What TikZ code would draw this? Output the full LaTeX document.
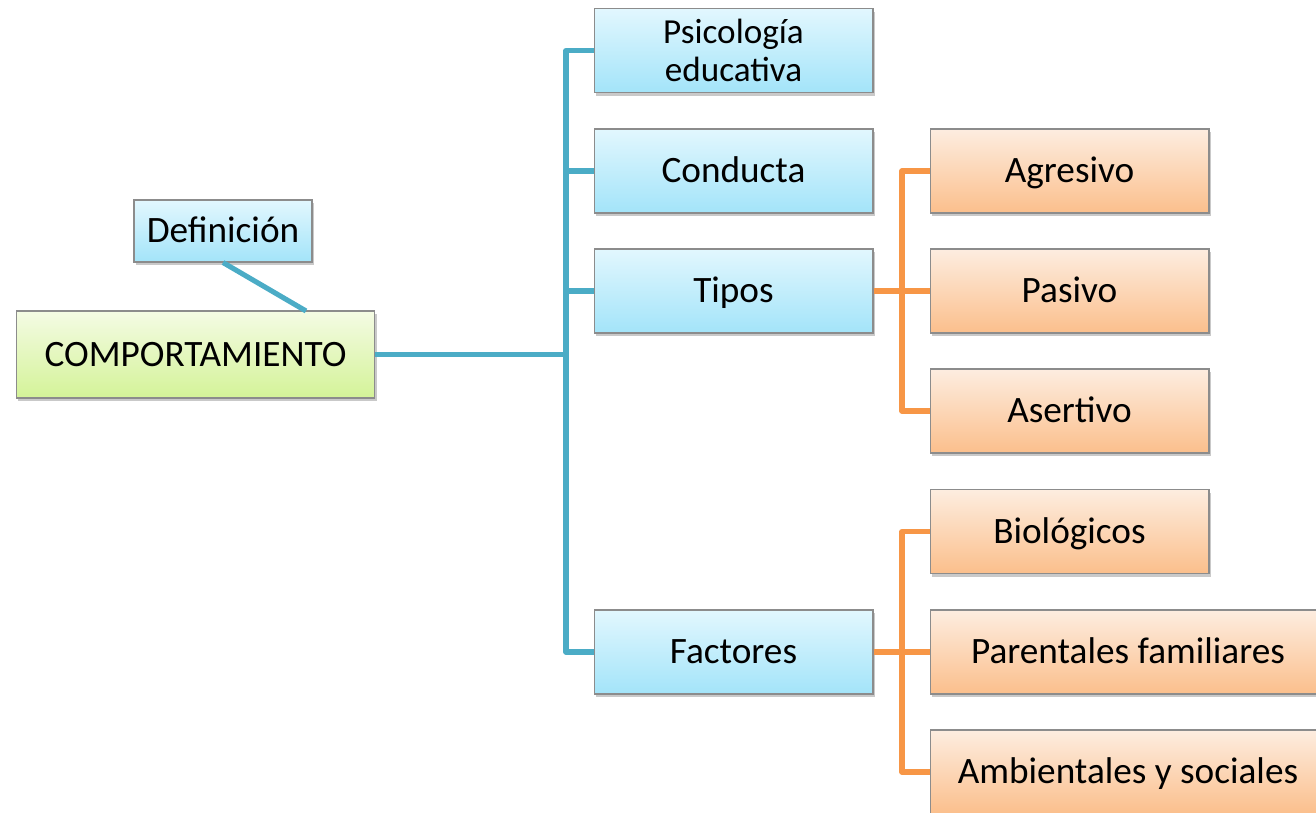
\documentclass[tikz,border=0pt]{standalone}
\usepackage{fontspec}
\setmainfont{Carlito}
\usepackage{tikz}
\usetikzlibrary{shadows}

\definecolor{lineblue}{HTML}{4BACC6}
\definecolor{lineorange}{HTML}{F79646}
\definecolor{boxgray}{HTML}{8C8C8C}
\definecolor{bluetop}{HTML}{E2F7FE}
\definecolor{bluebot}{HTML}{A3E4F9}
\definecolor{orangetop}{HTML}{FDEDE0}
\definecolor{orangebot}{HTML}{FBBF8C}
\definecolor{greentop}{HTML}{F4FBE4}
\definecolor{greenbot}{HTML}{D4F398}

\tikzset{
  box/.style={draw=boxgray, line width=0.6pt, inner sep=0pt, align=center,
    font=\fontsize{21.2}{23}\selectfont, text height=0.52cm, text depth=0.05cm,
    drop shadow={shadow xshift=1.2pt, shadow yshift=-1.8pt, opacity=0.3, fill=black!70}},
  bluebox/.style={box, top color=bluetop, bottom color=bluebot,
    minimum width=5.58cm, minimum height=1.68cm},
  orangebox/.style={box, top color=orangetop, bottom color=orangebot,
    minimum width=5.58cm, minimum height=1.68cm},
  widebox/.style={orangebox, minimum width=7.92cm},
  mainbox/.style={box, top color=greentop, bottom color=greenbot,
    minimum width=7.18cm, minimum height=1.74cm},
  blueline/.style={draw=lineblue, line width=2.9pt, line join=round},
  orangeline/.style={draw=lineorange, line width=2.9pt, line join=round}
}

\begin{document}
\begin{tikzpicture}[x=0.02cm, y=-0.02cm]
\useasboundingbox (0,0) rectangle (1316,813);
\node at (195.5,354.5) [mainbox] (comp) {COMPORTAMIENTO};
\node at (223,231) [bluebox, minimum width=3.56cm, minimum height=1.24cm] (def) {Definición};
\node at (733.5,50.5) [bluebox, font=\fontsize{20}{21.6}\selectfont, text height=, text depth=] (psico) {Psicología\\educativa};
\node at (733.5,171) [bluebox] (cond) {Conducta};
\node at (733.5,291) [bluebox] (tipos) {Tipos};
\node at (733.5,652) [bluebox] (fact) {Factores};
\node at (1069.5,171) [orangebox] (agre) {Agresivo};
\node at (1069.5,291) [orangebox] (pasi) {Pasivo};
\node at (1069.5,411) [orangebox] (aser) {Asertivo};
\node at (1069.5,531.5) [orangebox] (bio) {Biológicos};
\node at (1128,652) [widebox] (paren) {Parentales familiares};
\node at (1128,772) [widebox] (amb) {Ambientales y sociales};
\coordinate (trunk) at (566,354.5);
\coordinate (tipj) at (902,291);
\coordinate (facj) at (902,652);
\coordinate (defend) at (306,311);
% main branch
\draw[blueline] (comp.east) -- (trunk);
\draw[blueline] (psico.west) -| (trunk) |- (fact.west);
\draw[blueline] (cond.west) -- (cond.west -| trunk);
\draw[blueline] (tipos.west) -- (tipos.west -| trunk);
\draw[blueline] (def.south) -- (defend);
% tipos
\draw[orangeline] (tipos.east) -- (tipj);
\draw[orangeline] (agre.west) -| (tipj) |- (aser.west);
\draw[orangeline] (pasi.west) -- (tipj);
% factores
\draw[orangeline] (fact.east) -- (facj);
\draw[orangeline] (bio.west) -| (facj) |- (amb.west);
\draw[orangeline] (paren.west) -- (facj);
\end{tikzpicture}
\end{document}
